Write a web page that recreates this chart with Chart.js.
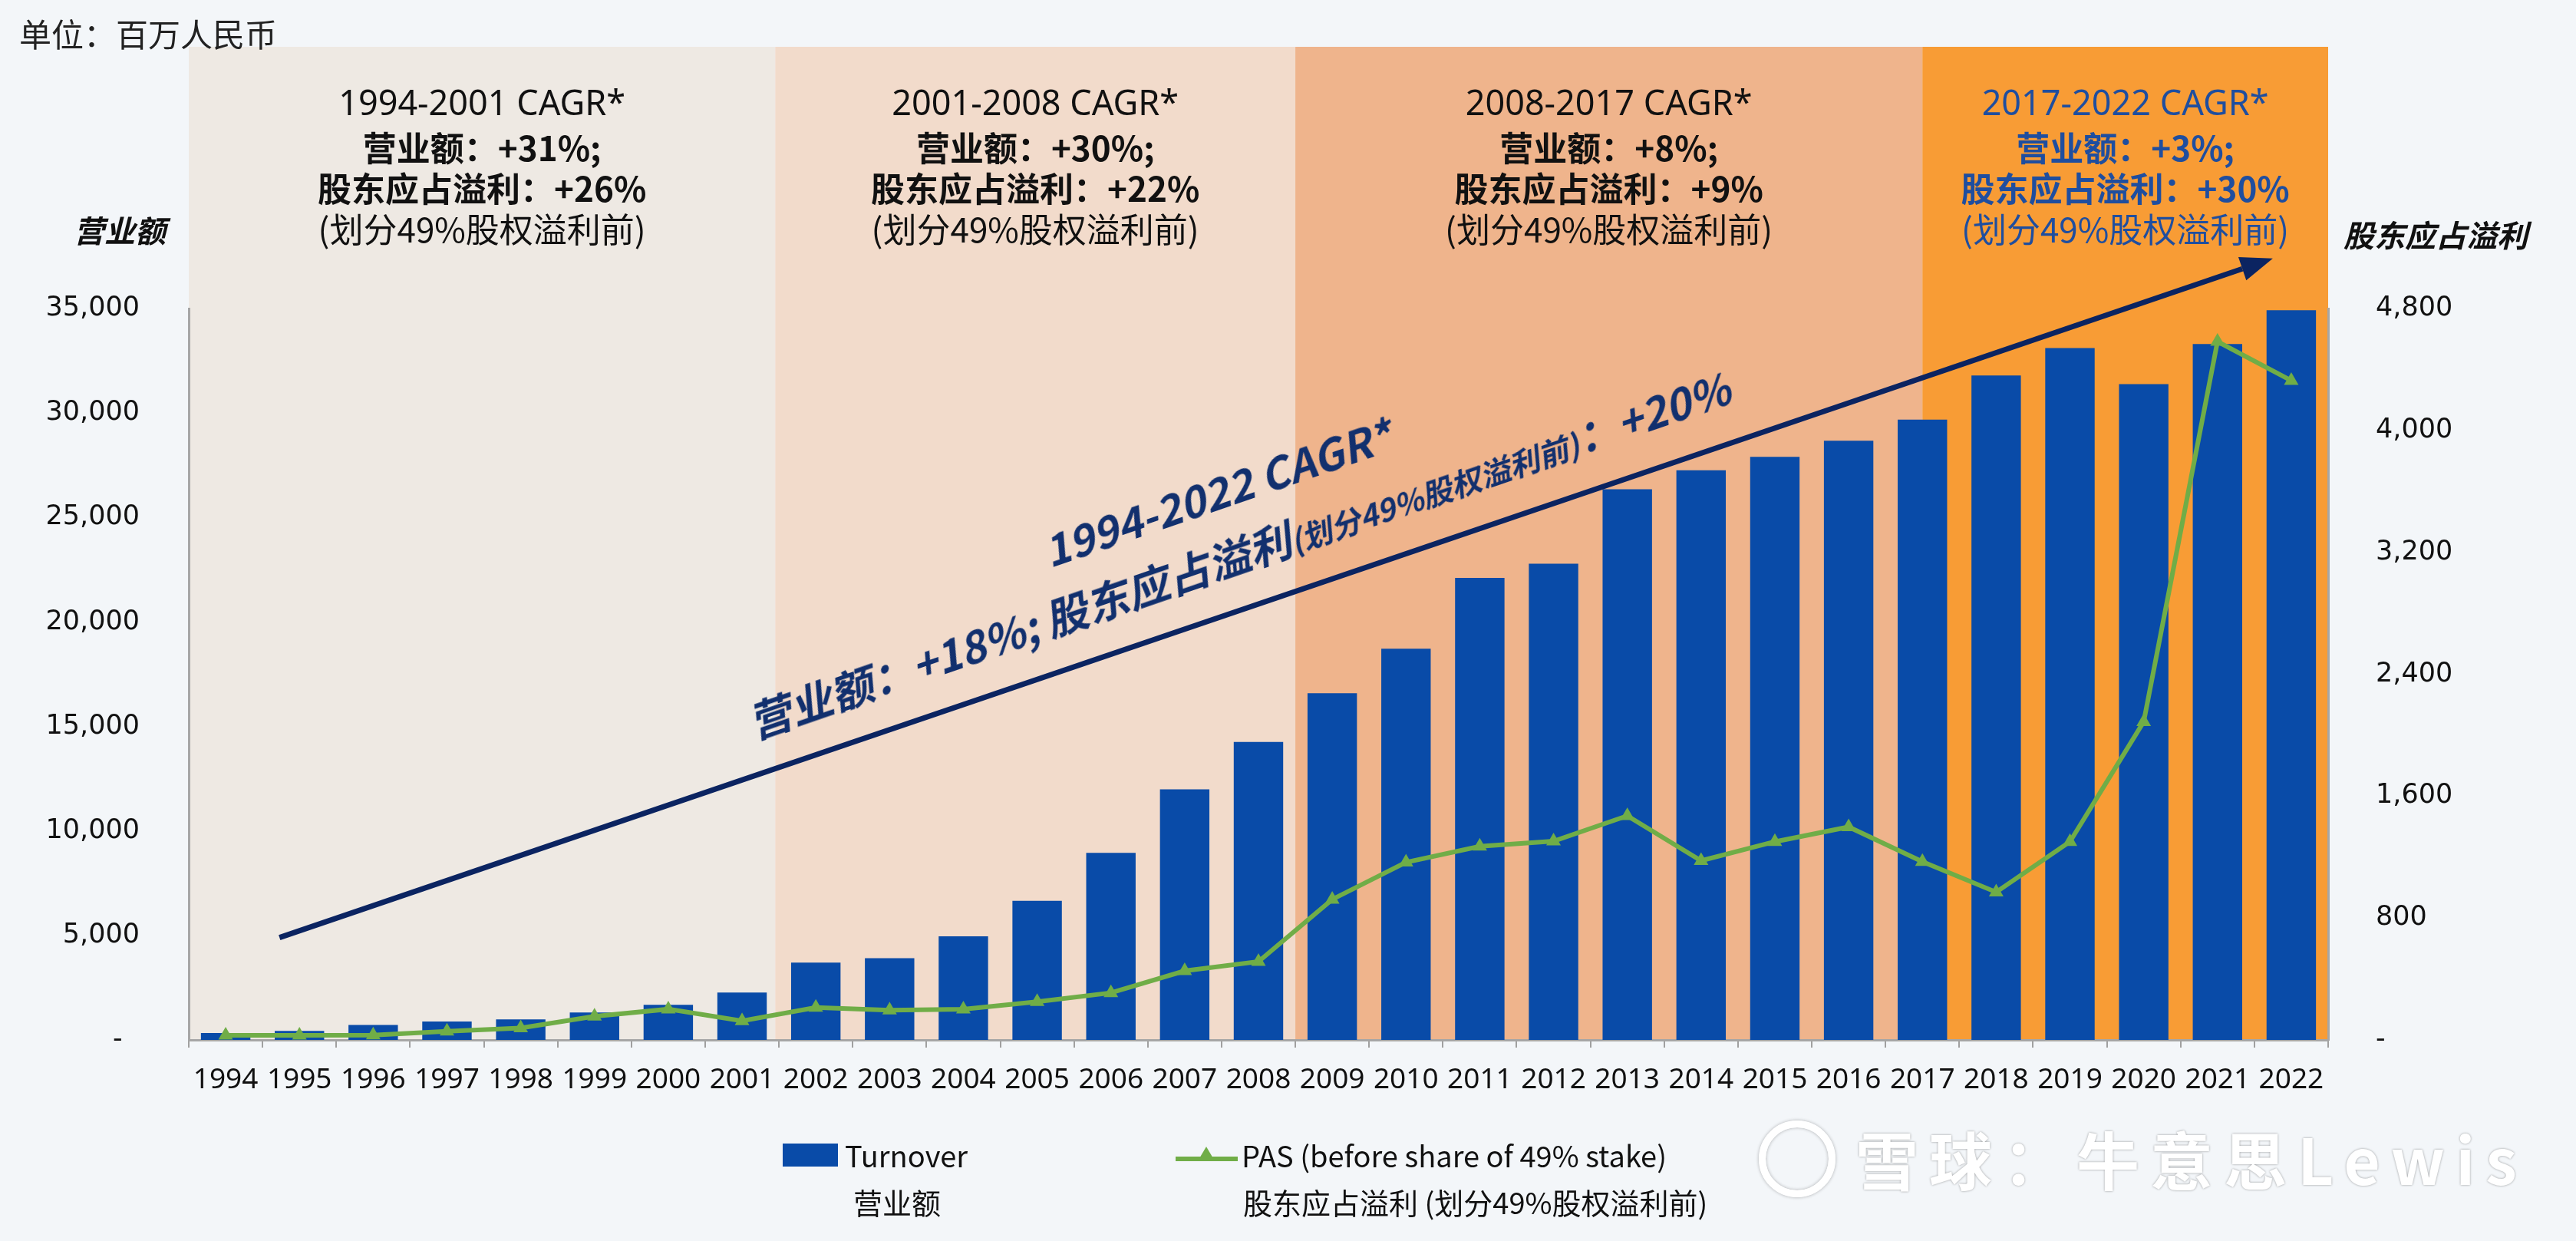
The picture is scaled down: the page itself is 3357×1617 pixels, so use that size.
<!DOCTYPE html>
<html>
<head>
<meta charset="utf-8">
<script src="https://cdn.jsdelivr.net/npm/chart.js@4/dist/chart.umd.min.js"></script>
<style>
  html, body { margin: 0; padding: 0; background: #f3f6f9; }
  #wrap { position: relative; width: 3357px; height: 1617px; overflow: hidden;
          font-family: "Noto Sans CJK SC", "Noto Sans", sans-serif; color: #111; }
  #wrap canvas { position: absolute; left: 0; top: 0; }
  .txt { position: absolute; white-space: nowrap; }
  .band-txt { position: absolute; top: 112px; transform: translateX(-50%); text-align: center;
              font-size: 44px; line-height: 53px; white-space: nowrap; }
  .band-txt .head { font-family: "Noto Sans", sans-serif; font-size: 45px; position: relative; top: -6px; }
  .band-txt b { font-weight: 700; }
  .axis-title { position: absolute; font-size: 40px; font-weight: 700; font-style: italic;
                transform: translate(-50%, -50%); white-space: nowrap; }
  .legend { position: absolute; font-size: 38px; line-height: 44px; white-space: nowrap; color: #111; }
</style>
</head>
<body>
<div id="wrap">
  <canvas id="chart"></canvas>
  <div class="txt" style="left:25px;top:17px;font-size:42px;line-height:52px;color:#222;">单位：百万人民币</div>
  <div class="axis-title" style="left:156px;top:299px;">营业额</div>
  <div class="axis-title" style="left:3174px;top:305px;">股东应占溢利</div>
  <div id="bandTexts"></div>
  <div id="cagr" class="txt" style="left:1601px;top:684px;transform:translate(-50%,-50%) rotate(-19deg);
       text-align:center;font-size:56px;line-height:86px;font-weight:700;font-style:italic;color:#12306e;">
    <div>1994-2022 CAGR*</div>
    <div>营业额：+18%; 股东应占溢利<span style="font-size:40px;">(划分49%股权溢利前)</span>：+20%</div>
  </div>

  <!-- legend -->
  <div style="position:absolute;left:1020px;top:1490px;width:72px;height:30px;background:#094ba8;"></div>
  <div class="legend" style="left:1101px;top:1483px;">Turnover</div>
  <div class="legend" style="left:1112px;top:1544px;">营业额</div>
  <div style="position:absolute;left:1532px;top:1507px;width:81px;height:6px;background:#70ad47;"></div>
  <div style="position:absolute;left:1562px;top:1494px;width:0;height:0;border-left:10px solid transparent;
       border-right:10px solid transparent;border-bottom:17px solid #70ad47;"></div>
  <div class="legend" style="left:1618px;top:1483px;">PAS (before share of 49% stake)</div>
  <div class="legend" style="left:1620px;top:1544px;">股东应占溢利 (划分49%股权溢利前)</div>

  <!-- watermark -->
  <div style="position:absolute;left:2292px;top:1460px;width:100px;height:100px;border-radius:50%;
       border:9px solid #fff;box-shadow:0 0 4px rgba(0,0,0,0.3), inset 0 0 4px rgba(0,0,0,0.3);box-sizing:border-box;"></div>
  <div class="txt" style="left:2418px;top:1458px;font-size:82px;line-height:102px;letter-spacing:14px;
       color:#fff;font-weight:700;text-shadow:0 0 3px rgba(0,0,0,0.4);">雪球：牛意思Lewis</div>
</div>

<script>
// Data
const years = ['1994','1995','1996','1997','1998','1999','2000','2001','2002','2003',
  '2004','2005','2006','2007','2008','2009','2010','2011','2012','2013',
  '2014','2015','2016','2017','2018','2019','2020','2021','2022'];
const turnover = [330, 430, 720, 880, 980, 1310, 1680, 2270, 3700, 3910,
  4960, 6660, 8950, 11990, 14260, 16590, 18720, 22110, 22790, 26350,
  27260, 27900, 28670, 29680, 31800, 33110, 31380, 33300, 34920];
const pas = [30, 30, 32, 57, 78, 155, 202, 125, 213, 195,
  202, 251, 309, 453, 514, 922, 1166, 1270, 1304, 1471,
  1176, 1301, 1398, 1170, 970, 1301, 2088, 4583, 4327];

// period bands (category index boundaries) and their captions
const bandEdges = [-0.5, 7.45, 14.5, 23, 28.5];
const bandColors = ['#eee9e3', '#f2dbcb', '#efb48c', '#f89c35'];
const bandTexts = [
  ['1994-2001 CAGR*', '营业额：+31%;', '股东应占溢利：+26%', '(划分49%股权溢利前)'],
  ['2001-2008 CAGR*', '营业额：+30%;', '股东应占溢利：+22%', '(划分49%股权溢利前)'],
  ['2008-2017 CAGR*', '营业额：+8%;', '股东应占溢利：+9%', '(划分49%股权溢利前)'],
  ['2017-2022 CAGR*', '营业额：+3%;', '股东应占溢利：+30%', '(划分49%股权溢利前)']
];
const bandTextColors = ['#111', '#111', '#111', '#1f4e9f'];
const BAND_TOP = 61;

// overall trend arrow, in (category index, turnover) units
const arrowFrom = [0.73, 4900];
const arrowTo = [27.75, 37400];

const fmt = v => v === 0 ? '-\u2007' : v.toLocaleString('en-US');

const bandPlugin = {
  id: 'bands',
  beforeDraw(chart) {
    const {ctx, chartArea, scales: {x}} = chart;
    ctx.save();
    for (let i = 0; i < bandColors.length; i++) {
      const x0 = x.getPixelForValue(bandEdges[i]);
      const x1 = x.getPixelForValue(bandEdges[i + 1]);
      ctx.fillStyle = bandColors[i];
      ctx.fillRect(x0, BAND_TOP, x1 - x0, chartArea.bottom - BAND_TOP);
    }
    ctx.restore();
  }
};

const arrowPlugin = {
  id: 'arrow',
  afterDatasetsDraw(chart) {
    const {ctx, scales: {x, y}} = chart;
    const x0 = x.getPixelForValue(arrowFrom[0]), y0 = y.getPixelForValue(arrowFrom[1]);
    const x1 = x.getPixelForValue(arrowTo[0]), y1 = y.getPixelForValue(arrowTo[1]);
    const a = Math.atan2(y1 - y0, x1 - x0);
    const len = 42, hw = 16;
    ctx.save();
    ctx.strokeStyle = '#0b2461';
    ctx.fillStyle = '#0b2461';
    ctx.lineWidth = 7;
    ctx.beginPath();
    ctx.moveTo(x0, y0);
    ctx.lineTo(x1 - len * Math.cos(a), y1 - len * Math.sin(a));
    ctx.stroke();
    ctx.beginPath();
    ctx.moveTo(x1, y1);
    ctx.lineTo(x1 - len * Math.cos(a) + hw * Math.sin(a), y1 - len * Math.sin(a) - hw * Math.cos(a));
    ctx.lineTo(x1 - len * Math.cos(a) - hw * Math.sin(a), y1 - len * Math.sin(a) + hw * Math.cos(a));
    ctx.closePath();
    ctx.fill();
    ctx.restore();
  }
};

const canvas = document.getElementById('chart');
canvas.width = 3357;
canvas.height = 1617;

const chart = new Chart(canvas.getContext('2d'), {
  type: 'bar',
  data: {
    labels: years,
    datasets: [{
      type: 'line',
      label: 'PAS',
      data: pas,
      yAxisID: 'y1',
      borderColor: '#70ad47',
      backgroundColor: '#70ad47',
      borderWidth: 6,
      pointStyle: 'triangle',
      pointRadius: 11,
      pointBorderWidth: 0,
      pointBackgroundColor: '#70ad47',
      tension: 0,
      order: 1
    }, {
      label: 'Turnover',
      data: turnover,
      yAxisID: 'y',
      backgroundColor: '#094ba8',
      barPercentage: 0.67,
      categoryPercentage: 1,
      order: 2
    }]
  },
  options: {
    responsive: false,
    animation: false,
    devicePixelRatio: 1,
    layout: { padding: { top: 402, left: 0, right: 0, bottom: 0 } },
    plugins: { legend: { display: false }, tooltip: { enabled: false } },
    scales: {
      x: {
        afterFit: s => { s.height = 262; },
        grid: { display: true, drawOnChartArea: false, drawTicks: true, tickLength: 10,
                color: '#a0a0a0', lineWidth: 2, offset: true },
        border: { display: true, color: '#a6a6a6', width: 3 },
        ticks: { autoSkip: false, maxRotation: 0, padding: 20, color: '#111',
                 font: { family: '"Noto Sans", sans-serif', size: 37 } }
      },
      y: {
        position: 'left',
        min: 0, max: 35000,
        afterFit: s => { s.width = 246; },
        grid: { display: false },
        border: { display: true, color: '#a6a6a6', width: 3 },
        ticks: { stepSize: 5000, padding: 56, callback: fmt, color: '#111',
                 font: { family: '"DejaVu Sans", sans-serif', size: 35 } }
      },
      y1: {
        position: 'right',
        min: 0, max: 4800,
        afterFit: s => { s.width = 323; },
        grid: { display: false },
        border: { display: true, color: '#a6a6a6', width: 3 },
        ticks: { stepSize: 800, padding: 54, callback: fmt, color: '#111',
                 font: { family: '"DejaVu Sans", sans-serif', size: 35 } }
      }
    }
  },
  plugins: [bandPlugin, arrowPlugin]
});

// period captions, centred on their bands
const holder = document.getElementById('bandTexts');
bandTexts.forEach((lines, i) => {
  const x0 = chart.scales.x.getPixelForValue(bandEdges[i]);
  const x1 = chart.scales.x.getPixelForValue(bandEdges[i + 1]);
  const div = document.createElement('div');
  div.className = 'band-txt';
  div.style.left = ((x0 + x1) / 2) + 'px';
  div.style.color = bandTextColors[i];
  div.innerHTML = `<div class="head">${lines[0]}</div><div><b>${lines[1]}</b></div><div><b>${lines[2]}</b></div><div>${lines[3]}</div>`;
  holder.appendChild(div);
});
</script>
</body>
</html>
